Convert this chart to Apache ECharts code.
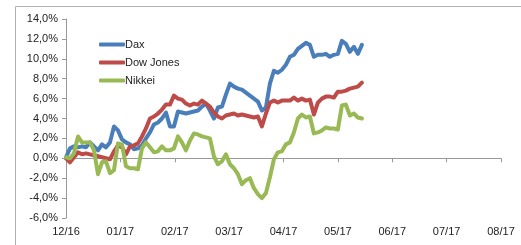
<!DOCTYPE html>
<html>
<head>
<meta charset="utf-8">
<script src="https://cdn.jsdelivr.net/npm/echarts@6/dist/echarts.min.js"></script>
<style>
    html, body { margin: 0; padding: 0; background: #fff; }
    #chart { width: 521px; height: 245px; }
</style>
</head>
<body>
<div id="chart"></div>
<script>
    // month tick labels (one tick every PER_MONTH samples)
    var monthLabels = ['12/16', '01/17', '02/17', '03/17', '04/17', '05/17', '06/17', '07/17', '08/17'];
    var PER_MONTH = 13.6;

    // performance since start, in %
    var dax = [0.1, 1.0, 1.2, 1.1, 1.2, 1.1, 1.6, 1.2, 0.8, 1.4, 1.1, 1.6, 3.2, 2.8, 1.9,
        1.6, 1.4, 0.9, 1.0, 1.3, 2.0, 2.6, 3.4, 3.6, 4.0, 4.6, 3.2, 3.2, 4.7, 4.6,
        4.5, 4.6, 4.7, 4.8, 5.2, 5.5, 4.8, 4.0, 5.1, 5.2, 6.4, 7.5, 7.2, 7.0, 6.9,
        6.6, 6.3, 6.0, 5.7, 4.8, 5.1, 7.5, 8.8, 8.6, 8.9, 9.4, 10.2, 10.4, 11.0, 11.3,
        11.6, 11.4, 10.2, 10.4, 10.4, 10.5, 10.2, 10.4, 10.5, 11.8, 11.5, 10.7, 11.2, 10.5, 11.4];
    var dowJones = [0.0, -0.4, 0.1, 0.6, 0.4, 0.5, 0.4, 0.3, 0.2, 0.1, 0.0, -0.1, 0.7, 1.3, 1.1,
        0.4, 1.2, 1.3, 1.5, 2.2, 3.0, 4.0, 4.2, 4.5, 4.9, 5.4, 5.4, 6.3, 6.0, 5.9,
        5.5, 5.3, 5.5, 5.4, 5.8, 5.5, 5.2, 4.6, 4.2, 4.0, 4.3, 4.4, 4.5, 4.3, 4.4,
        4.3, 4.2, 4.1, 4.2, 3.2, 4.5, 5.6, 5.8, 5.6, 5.8, 5.8, 5.8, 6.1, 5.8, 6.0,
        5.8, 5.9, 4.4, 5.6, 6.0, 6.2, 6.2, 6.1, 6.7, 6.7, 6.8, 7.0, 7.1, 7.2, 7.6];
    var nikkei = [0.1, 0.0, 0.5, 2.2, 1.6, 1.6, 1.6, 0.8, -1.6, -0.4, -0.3, -1.5, -1.2, 1.5, 1.4,
        -0.8, -1.0, -1.0, -1.1, 1.0, 1.6, 1.1, 0.6, 0.7, 1.2, 0.8, 0.8, 1.0, 2.2, 1.6,
        0.8, 1.8, 2.5, 2.4, 2.2, 2.1, 2.0, 0.2, -0.6, -0.3, 0.4, -0.6, -1.0, -1.6, -2.6,
        -2.2, -2.0, -3.0, -3.6, -4.0, -3.5, -1.9, -0.1, 0.6, 0.7, 1.4, 1.6, 2.6, 4.0, 4.4,
        4.1, 4.2, 2.5, 2.6, 2.8, 3.1, 3.0, 3.0, 2.9, 5.3, 5.4, 4.3, 4.5, 4.1, 4.0];

    var chart = echarts.init(document.getElementById('chart'), null, { renderer: 'canvas' });

    var toPairs = function (arr) {
        var out = [];
        for (var i = 0; i < arr.length; i++) {
            out.push([i, arr[i]]);
        }
        return out;
    };

    var lineSeries = function (name, arr, color) {
        return {
            name: name,
            type: 'line',
            data: toPairs(arr),
            showSymbol: false,
            symbol: 'none',
            smooth: false,
            lineStyle: { color: color, width: 4, cap: 'round', join: 'round' },
            itemStyle: { color: color },
            animation: false
        };
    };

    var labelFont = { fontFamily: 'Liberation Sans', fontSize: 11, color: '#222' };

    var option = {
        animation: false,
        graphic: [{
            type: 'rect',
            shape: { x: 15.5, y: 6.5, width: 520, height: 260 },
            style: { fill: 'none', stroke: '#b0b0b0', lineWidth: 1 },
            silent: true
        }],
        grid: { left: 66, right: 20, top: 19, bottom: 27 },
        legend: {
            orient: 'vertical',
            left: 94,
            top: 34,
            itemGap: 7,
            itemWidth: 26,
            itemHeight: 4,
            icon: 'roundRect',
            textStyle: { fontFamily: 'Liberation Sans', fontSize: 11, color: '#222', padding: [0, 0, 0, -5] },
            data: ['Dax', 'Dow Jones', 'Nikkei']
        },
        xAxis: {
            type: 'value',
            min: 0,
            max: PER_MONTH * 8,
            interval: PER_MONTH,
            splitLine: { show: false },
            axisLine: { show: true, lineStyle: { color: '#999' } },
            axisTick: { show: true, length: 4, lineStyle: { color: '#999' } },
            axisLabel: Object.assign({
                margin: 8,
                formatter: function (v) {
                    return monthLabels[Math.round(v / PER_MONTH)] || '';
                }
            }, labelFont)
        },
        yAxis: {
            type: 'value',
            min: -6,
            max: 14,
            interval: 2,
            splitLine: { show: false },
            axisLine: { show: true, lineStyle: { color: '#999' } },
            axisTick: { show: true, length: 4, lineStyle: { color: '#999' } },
            axisLabel: Object.assign({
                margin: 8,
                formatter: function (v) {
                    return v.toFixed(1).replace('.', ',') + '%';
                }
            }, labelFont)
        },
        series: [
            lineSeries('Dax', dax, '#4a7ebb'),
            lineSeries('Dow Jones', dowJones, '#be4b48'),
            lineSeries('Nikkei', nikkei, '#98b954')
        ]
    };

    chart.setOption(option);
</script>
</body>
</html>
